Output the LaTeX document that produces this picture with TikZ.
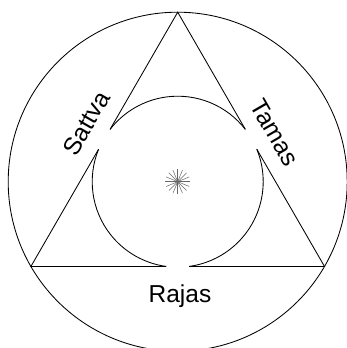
\documentclass[tikz,border=0pt]{standalone}
\usepackage{fontspec}
\setmainfont{Liberation Sans}
\begin{document}
\begin{tikzpicture}[x=1pt,y=1pt,line width=0.85pt,
  lbl/.style={font=\fontsize{24.5}{28}\selectfont,inner sep=0pt},
  rays/.style={gray!80!black,line width=0.5pt}]
\useasboundingbox (0,0) rectangle (347,348);
\coordinate (O) at (177.7,166.3);
% triangle vertices
\path (O) ++(90:169.5) coordinate (A);
\path (O) ++(210:169.5) coordinate (BL);
\path (O) ++(330:169.5) coordinate (BR);
% tangent points of the inner circle
\path (O) ++(150:85.5) coordinate (Tl);
\path (O) ++(30:85.5) coordinate (Tr);
\path (O) ++(270:84.75) coordinate (Tb);
% ends of the side pieces at the gaps
\path (O) ++(150:84.75) ++(60:11.5) coordinate (Tl1);
\path (O) ++(150:84.75) ++(240:11.5) coordinate (Tl2);
\path (O) ++(30:84.75) ++(120:11.5) coordinate (Tr1);
\path (O) ++(30:84.75) ++(300:11.5) coordinate (Tr2);
\path (Tb) ++(180:11.5) coordinate (Tb1);
\path (Tb) ++(0:11.5) coordinate (Tb2);
% ends of the arcs
\path (O) ++(37.73:85.5) coordinate (a1);
\path (O) ++(157.73:85.5) coordinate (a2);
\path (O) ++(277.73:85.5) coordinate (a3);
% outer circle
\draw (O) circle[radius=169.5pt];
% top region
\draw (Tl1) -- (A) -- (Tr1);
\draw (a1) arc[start angle=37.73,end angle=142.27,radius=85.5pt];
% bottom-left region
\draw (Tl2) -- (BL) -- (Tb1);
\draw (a2) arc[start angle=157.73,end angle=262.27,radius=85.5pt];
% bottom-right region
\draw (Tb2) -- (BR) -- (Tr2);
\draw (a3) arc[start angle=277.73,end angle=382.27,radius=85.5pt];
% star
\foreach \a in {0,22.5,...,157.5}
  \draw[rays] (O) ++(\a:12.5) -- ++({\a+180}:25);
% labels
\path (Tl) ++(150:23) ++(60:5) node[lbl,rotate=60] (sattva) {Sattva};
\path (Tr) ++(30:23) ++(300:6) node[lbl,rotate=-60] (tamas) {Tamas};
\node[lbl,anchor=base] (rajas) at (180,45.3) {Rajas};
\end{tikzpicture}
\end{document}
